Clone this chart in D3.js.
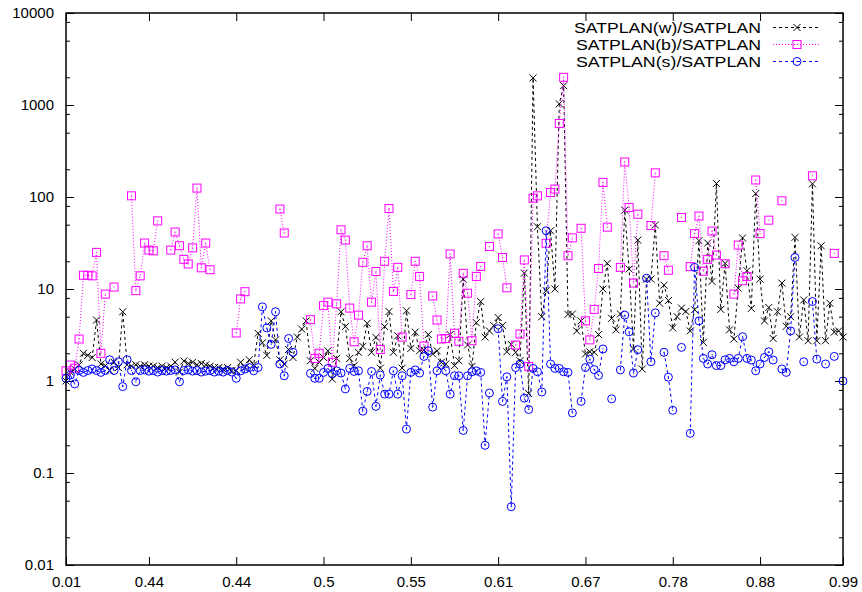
<!DOCTYPE html>
<html>
<head>
<meta charset="utf-8">
<script src="https://cdn.jsdelivr.net/npm/d3@7/dist/d3.min.js"></script>
<style>
  body { margin: 0; background: #fff; }
  text { font-family: "Liberation Sans", Arial, sans-serif; }
</style>
</head>
<body>
<div id="main"></div>
<script>
// x tick positions (point index) and the labels gnuplot printed there
var tickIndex = [0, 19, 39, 59, 79, 99, 119, 139, 159, 178];
var tickLabels = ['0.01', '0.44', '0.44', '0.5', '0.55', '0.61', '0.67', '0.78', '0.88', '0.99'];

var yMajor = [0.01, 0.1, 1, 10, 100, 1000, 10000];
var yLabels = ['0.01', '0.1', '1', '10', '100', '1000', '10000'];

var seriesNames = ['SATPLAN(w)/SATPLAN', 'SATPLAN(b)/SATPLAN', 'SATPLAN(s)/SATPLAN'];

// SATPLAN(w)/SATPLAN
var ratioW = [
  1.0, 1.25, 1.35, 1.5, 2.0, 1.9, 1.8, 4.6, 1.53, 1.47,
  1.3, 1.6, 1.4, 5.66, 1.5, 1.45, 1.5, 1.45, 1.5, 1.45,
  1.45, 1.4, 1.45, 1.4, 1.45, 1.6, 1.25, 1.65, 1.55, 1.6,
  1.5, 1.55, 1.5, 1.45, 1.4, 1.4, 1.35, 1.4, 1.3, 1.3,
  1.6, 1.4, 1.7, 1.5, 3.3, 2.6, 1.9, 4.5, 2.8, 1.7,
  1.53, 2.2, 1.8, 3.0, 3.67, 4.5, 1.66, 1.37, 1.6, 1.8,
  2.13, 1.05, 1.76, 5.66, 3.9, 1.76, 1.47, 2.05, 2.38, 4.24,
  2.05, 2.98, 1.38, 3.9, 5.7, 2.05, 3.1, 1.38, 5.8, 2.26,
  3.4, 2.13, 2.17, 3.2, 1.97, 2.13, 1.6, 1.53, 3.2, 1.47,
  1.66, 12.8, 2.46, 1.44, 4.3, 7.3, 3.0, 3.5, 4.0, 4.9,
  4.0, 2.08, 2.5, 2.05, 1.66, 14.9, 0.73, 1970, 47.5, 5.0,
  9.6, 43, 10, 1030, 1620, 5.3, 5.35, 3.5, 4.5, 1.97,
  2.08, 2.05, 3.2, 10, 19, 4.8, 3.6, 5.35, 72, 16.5,
  2.23, 34, 1.35, 12.8, 12.8, 49.6, 7, 11, 7.5, 3.77,
  5, 6.2, 5.7, 3.5, 5.95, 33.5, 2.63, 31.6, 12.1, 140,
  6, 19, 3.6, 2.86, 10.2, 35.9, 15.8, 6.15, 109, 12.8,
  4.5, 6.3, 2.9, 5.66, 11.6, 3.93, 5.0, 36.4, 3.0, 7.6,
  2.74, 139, 2.74, 29.5, 2.74, 7.0, 3.4, 3.5, 3.0
];

// SATPLAN(b)/SATPLAN (null = not solved)
var ratioB = [
  1.29, 1.49, 1.38, 2.86, 14.1, 14.1, 13.9, 25, 2.0, 8.8,
  null, 10.5, null, null, null, 103, 9.6, 13.9, 31.6, 26.5,
  26, 55, null, null, 26.5, 41.6, 29.5, 21, 18.7, 28,
  125, 17, 31.6, 16.2, null, null, null, null, null, 3.33,
  7.8, 9.35, null, null, null, null, null, null, null, 74,
  40.6, null, null, null, null, null, 4.64, 1.76, 2.0, 6.6,
  7.2, 1.6, 6.9, 44, 34, 6.2, 2.67, 5.2, 19.5, 29.5,
  7.2, 15.5, 2.2, 20, 75, 9.4, 17.2, 3.0, null, 8.7,
  20, 13.7, 2.4, null, 8.4, 4.6, 2.86, 2.9, 24, 3.3,
  2.7, 14.8, 9, 2.74, 13.7, 17.6, null, 29, null, 39.7,
  22, 10.3, null, 2.46, 3.24, 20.7, 1.44, 97, 103, null,
  31.4, 112, 122, 630, 2000, 23, 36, null, 45.7, 4.5,
  2.8, 6.0, 16.7, 144, 47, null, null, 17.2, 240, 77,
  11.6, 65, null, null, 49, 183, null, 23, 16, null,
  null, 60, null, 17.5, 40, 62, 15.6, 21, 42.6, 23.4,
  null, 18.8, null, 8.8, 30, 12.3, 13.7, null, 153, 40,
  null, 56, null, null, 91, null, null, null, null, null,
  null, 170, null, null, null, null, 24.4, null, null
];

// SATPLAN(s)/SATPLAN
var ratioS = [
  1.07, 1.16, 0.93, 1.3, 1.24, 1.3, 1.35, 1.3, 1.24, 1.3,
  1.7, 1.3, 1.62, 0.87, 1.7, 1.3, 0.98, 1.3, 1.32, 1.28,
  1.3, 1.25, 1.3, 1.28, 1.3, 1.32, 0.98, 1.3, 1.32, 1.28,
  1.3, 1.25, 1.28, 1.3, 1.25, 1.28, 1.25, 1.3, 1.25, 1.07,
  1.29, 1.35, 1.4, 1.29, 1.4, 6.4, 3.77, 2.5, 5.66, 1.53,
  1.14, 2.9, 2.05, null, null, null, 1.21, 1.07, 1.07, 1.24,
  1.37, 1.2, 1.29, 1.22, 0.82, 1.37, 1.27, 1.29, 0.47, 0.77,
  1.27, 0.53, 1.16, 0.72, 0.72, 1.29, 0.72, 1.14, 0.30, 1.24,
  1.32, 1.22, 1.85, 2.13, 0.52, 1.29, 1.49, 1.29, 0.72, 1.14,
  1.14, 0.29, 1.14, 1.26, 1.29, 1.24, 0.2, 0.74, null, 3.7,
  0.6, 1.11, 0.043, 1.4, 1.53, 0.65, 0.49, 1.37, 1.26, 0.76,
  43, 1.53, 1.37, 1.37, 1.26, 1.24, 0.45, null, 0.6, 1.4,
  1.73, 1.33, 1.15, 2.23, null, 0.64, null, 1.32, 5.2, 3.43,
  1.22, 2.19, null, 13.1, 1.62, 5.5, null, 2.05, 1.1, 0.48,
  null, 2.32, null, 0.27, 17.2, 4.5, 1.76, 1.53, 1.93, 1.47,
  1.47, 1.7, 1.76, 1.62, 1.76, 3.03, 1.76, 1.69, 1.29, 1.53,
  1.8, 2.08, 1.69, null, 1.35, 1.24, 3.5, 22, null, 1.62,
  null, 7.3, 1.73, null, 1.53, null, 1.85, null, 1.0
];


function Sketch() {
  this.width = 862;
  this.height = 592;
  this.left = 66;
  this.right = 843;
  this.top = 13;
  this.bottom = 565;
}

Sketch.prototype.init = function() {
  this.svg = d3.select('#main')
    .append('svg')
    .attr('width', this.width)
    .attr('height', this.height);

  this.x = d3.scaleLinear()
    .domain([0, ratioW.length - 1])
    .range([this.left, this.right]);

  this.y = d3.scaleLog()
    .domain([0.01, 10000])
    .range([this.bottom, this.top]);
};


Sketch.prototype.update = function() {
  var toPoints = function(arr) {
    return arr.map(function(v, i) { return {i: i, v: v}; });
  };

  this.data = [
    {name: seriesNames[0], values: toPoints(ratioW), color: '#000000', dash: '3,3', mark: 'cross'},
    {name: seriesNames[1], values: toPoints(ratioB), color: '#ff00ff', dash: '1,2', mark: 'square'},
    {name: seriesNames[2], values: toPoints(ratioS), color: '#0000ff', dash: '3,3', mark: 'circle'}
  ];

  var minor = [];
  yMajor.slice(0, -1).forEach(function(d) {
    [2, 5, 8].forEach(function(m) { minor.push(d * m); });
  });
  this.minor = minor;
};


Sketch.prototype.drawMark = function(g, type, cx, cy, color) {
  if (type === 'cross') {
    g.append('path')
      .attr('d', 'M' + (cx - 3.5) + ',' + (cy - 3.5) + 'L' + (cx + 3.5) + ',' + (cy + 3.5) +
                 'M' + (cx - 3.5) + ',' + (cy + 3.5) + 'L' + (cx + 3.5) + ',' + (cy - 3.5))
      .attr('stroke', color)
      .attr('stroke-width', 1);
  } else if (type === 'square') {
    g.append('rect')
      .attr('x', cx - 4).attr('y', cy - 4)
      .attr('width', 8).attr('height', 8)
      .attr('fill', 'none')
      .attr('stroke', color)
      .attr('stroke-width', 1);
    g.append('rect')
      .attr('x', cx - 0.5).attr('y', cy - 0.5)
      .attr('width', 1).attr('height', 1)
      .attr('fill', color);
  } else {
    g.append('circle')
      .attr('cx', cx).attr('cy', cy).attr('r', 4)
      .attr('fill', 'none')
      .attr('stroke', color)
      .attr('stroke-width', 1);
    g.append('rect')
      .attr('x', cx - 0.5).attr('y', cy - 0.5)
      .attr('width', 1).attr('height', 1)
      .attr('fill', color);
  }
};


Sketch.prototype.render = function() {
  var self = this;
  var x = this.x, y = this.y;

  this.svg.append('rect')
    .attr('width', this.width)
    .attr('height', this.height)
    .attr('fill', '#fff');

  // axes: ticks point inward, mirrored on top and right
  var axes = this.svg.append('g').attr('class', 'axes');

  var styleAxis = function(g) {
    g.select('.domain').remove();
    g.selectAll('line').attr('stroke', '#000').attr('stroke-width', 1);
    g.selectAll('text')
      .attr('fill', '#000')
      .attr('font-size', '15px')
      .attr('font-family', '"Liberation Sans", Arial, sans-serif');
  };

  axes.append('g')
    .attr('transform', 'translate(0,' + this.bottom + ')')
    .call(d3.axisBottom(x).tickValues(tickIndex)
      .tickFormat(function(d, i) { return tickLabels[i]; })
      .tickSize(-8).tickSizeOuter(0).tickPadding(11))
    .call(styleAxis);

  axes.append('g')
    .attr('transform', 'translate(0,' + this.top + ')')
    .call(d3.axisTop(x).tickValues(tickIndex).tickFormat('')
      .tickSize(-8).tickSizeOuter(0))
    .call(styleAxis);

  axes.append('g')
    .attr('transform', 'translate(' + this.left + ',0)')
    .call(d3.axisLeft(y).tickValues(yMajor)
      .tickFormat(function(d, i) { return yLabels[i]; })
      .tickSize(-8).tickSizeOuter(0).tickPadding(12))
    .call(styleAxis);

  axes.append('g')
    .attr('transform', 'translate(' + this.left + ',0)')
    .call(d3.axisLeft(y).tickValues(this.minor).tickFormat('')
      .tickSize(-4).tickSizeOuter(0))
    .call(styleAxis);

  axes.append('g')
    .attr('transform', 'translate(' + this.right + ',0)')
    .call(d3.axisRight(y).tickValues(yMajor).tickFormat('')
      .tickSize(-8).tickSizeOuter(0))
    .call(styleAxis);

  axes.append('g')
    .attr('transform', 'translate(' + this.right + ',0)')
    .call(d3.axisRight(y).tickValues(this.minor).tickFormat('')
      .tickSize(-4).tickSizeOuter(0))
    .call(styleAxis);

  // series
  var line = d3.line()
    .defined(function(d) { return d.v !== null; })
    .x(function(d) { return x(d.i); })
    .y(function(d) { return y(d.v); });

  this.data.forEach(function(s) {
    var g = self.svg.append('g').attr('class', 'series');

    g.append('path')
      .datum(s.values)
      .attr('d', line)
      .attr('fill', 'none')
      .attr('stroke', s.color)
      .attr('stroke-width', 1)
      .attr('stroke-dasharray', s.dash);

    s.values.forEach(function(d) {
      if (d.v === null) return;
      self.drawMark(g, s.mark, x(d.i), y(d.v), s.color);
    });
  });

  // legend (gnuplot's font is wider, so stretch to the same width)
  var legend = this.svg.append('g').attr('class', 'legend');
  this.data.forEach(function(s, k) {
    var base = 33 + k * 17;
    var cy = base - 5.5;

    legend.append('text')
      .attr('x', 761)
      .attr('y', base)
      .attr('text-anchor', 'end')
      .attr('font-size', '14.5px')
      .attr('textLength', s.name.indexOf('(w)') > 0 ? 187 : 185)
      .attr('lengthAdjust', 'spacingAndGlyphs')
      .attr('fill', '#000')
      .text(s.name);

    legend.append('line')
      .attr('x1', 773).attr('x2', 819)
      .attr('y1', cy).attr('y2', cy)
      .attr('stroke', s.color)
      .attr('stroke-width', 1)
      .attr('stroke-dasharray', s.dash);

    self.drawMark(legend, s.mark, 797, cy, s.color);
  });

  // frame
  this.svg.append('rect')
    .attr('x', this.left)
    .attr('y', this.top)
    .attr('width', this.right - this.left)
    .attr('height', this.bottom - this.top)
    .attr('fill', 'none')
    .attr('stroke', '#000')
    .attr('stroke-width', 1.5);
};


document.addEventListener('DOMContentLoaded', function() {
  var s = new Sketch();
  s.init();
  s.update();
  s.render();
});
</script>
</body>
</html>
